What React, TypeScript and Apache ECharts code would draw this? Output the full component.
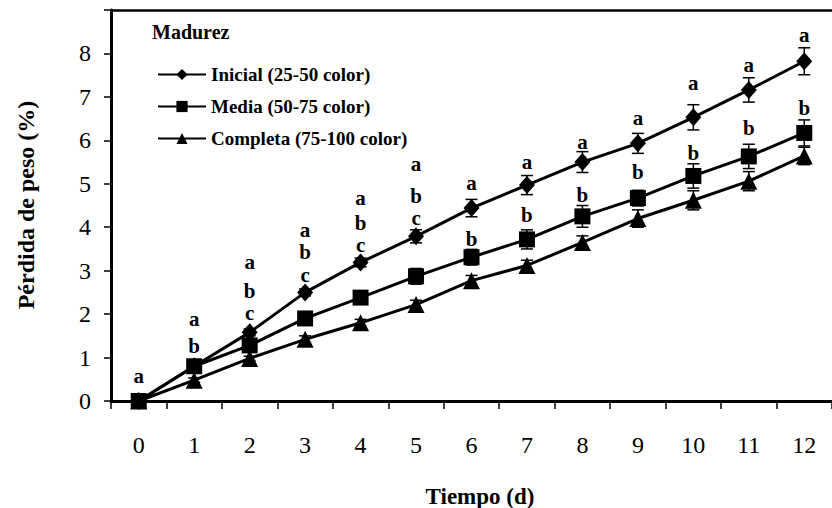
import React, { useEffect, useRef } from "react";
import * as echarts from "echarts";

const days = ["0", "1", "2", "3", "4", "5", "6", "7", "8", "9", "10", "11", "12"];
const seriesNames = ["Inicial (25-50 color)", "Media (50-75 color)", "Completa (75-100 color)"];
const inicial = [0, 0.8, 1.58, 2.5, 3.19, 3.79, 4.44, 4.97, 5.5, 5.93, 6.53, 7.16, 7.82];
const media = [0, 0.8, 1.28, 1.9, 2.38, 2.87, 3.31, 3.72, 4.25, 4.67, 5.18, 5.63, 6.17];
const completa = [0, 0.48, 0.98, 1.42, 1.8, 2.22, 2.77, 3.12, 3.65, 4.2, 4.62, 5.06, 5.64];
const errInicial = [0, 0.05, 0.08, 0.08, 0.1, 0.15, 0.2, 0.22, 0.24, 0.23, 0.29, 0.28, 0.31];
const errMedia = [0, 0.05, 0.08, 0.1, 0.1, 0.18, 0.18, 0.22, 0.25, 0.18, 0.28, 0.28, 0.3];
const errCompleta = [0, 0.05, 0.05, 0.08, 0.08, 0.1, 0.12, 0.12, 0.15, 0.2, 0.22, 0.22, 0.2];
const letterX = [0, 1, 1, 2, 2, 2, 3, 3, 3, 4, 4, 4, 5, 5, 5, 6, 6, 7, 7, 8, 8, 9, 9, 10, 10, 11, 11, 12, 12];
const letterY = [0.57, 1.88, 1.27, 3.2, 2.54, 2.02, 3.94, 3.43, 2.9, 4.67, 4.09, 3.58, 5.45, 4.72, 4.22, 5.01, 3.74, 5.5, 4.28, 5.96, 4.74, 6.51, 5.27, 7.32, 5.71, 7.74, 6.28, 8.43, 6.74];
const letterText = ["a", "a", "b", "a", "b", "c", "a", "b", "c", "a", "b", "c", "a", "b", "c", "a", "b", "a", "b", "a", "b", "a", "b", "a", "b", "a", "b", "a", "b"];
const yTicks = ["0", "1", "2", "3", "4", "5", "6", "7", "8", ""];

const FONT = "Liberation Serif";

function errData(vals: number[], errs: number[]) {
  return vals.map((v, i) => [i, v - errs[i], v + errs[i]]);
}

function errSeries(vals: number[], errs: number[]) {
  return {
    type: "custom",
    xAxisIndex: 0,
    yAxisIndex: 0,
    z: 1,
    silent: true,
    data: errData(vals, errs),
    renderItem: (params: any, api: any) => {
      const x = api.value(0);
      const lo = api.coord([x, api.value(1)]);
      const hi = api.coord([x, api.value(2)]);
      const hw = 6;
      const st = { stroke: "#000", lineWidth: 1.5 };
      return {
        type: "group",
        children: [
          { type: "line", shape: { x1: lo[0], y1: lo[1], x2: hi[0], y2: hi[1] }, style: st },
          { type: "line", shape: { x1: lo[0] - hw, y1: lo[1], x2: lo[0] + hw, y2: lo[1] }, style: st },
          { type: "line", shape: { x1: hi[0] - hw, y1: hi[1], x2: hi[0] + hw, y2: hi[1] }, style: st },
        ],
      };
    },
  };
}

export default function App() {
  const ref = useRef<HTMLDivElement>(null);
  useEffect(() => {
    if (!ref.current) return;
    const chart = echarts.init(ref.current, null, { renderer: "svg" });
    const lineStyle = { color: "#000", width: 3 };
    chart.setOption({
      animation: false,
      backgroundColor: "#fff",
      grid: { left: 111, right: -12, top: 10, bottom: 107 },
      legend: {
        data: seriesNames,
        orient: "vertical",
        left: 152,
        top: 60,
        itemWidth: 48,
        itemHeight: 14,
        itemGap: 13,
        textStyle: { fontFamily: FONT, fontWeight: "bold", fontSize: 19, color: "#000" },
        selectedMode: false,
      },
      xAxis: [
        {
          type: "category",
          data: days,
          boundaryGap: true,
          axisLine: { lineStyle: { color: "#000", width: 3 } },
          axisTick: { show: true, length: 8, lineStyle: { color: "#000", width: 1.5 } },
          axisLabel: { fontFamily: FONT, fontSize: 24, color: "#000", margin: 32 },
          splitLine: { show: false },
        },
        {
          type: "category",
          data: days,
          position: "top",
          axisLine: { lineStyle: { color: "#000", width: 2.5 } },
          axisTick: { show: false },
          axisLabel: { show: false },
        },
      ],
      yAxis: {
        type: "value",
        min: 0,
        max: 9,
        interval: 1,
        axisLine: { show: true, lineStyle: { color: "#000", width: 3 } },
        axisTick: { show: true, length: 7, lineStyle: { color: "#000", width: 1.5 } },
        axisLabel: {
          fontFamily: FONT,
          fontSize: 24,
          color: "#000",
          margin: 20,
          formatter: (v: number) => yTicks[Math.round(v)] ?? "",
        },
        splitLine: { show: false },
      },
      graphic: [
        {
          type: "text",
          left: 152,
          top: 22,
          style: { text: "Madurez", font: `bold 20px ${FONT}`, fill: "#000" },
        },
        {
          type: "text",
          x: 26,
          y: 205,
          rotation: Math.PI / 2,
          style: {
            text: "Pérdida de peso (%)",
            font: `bold 24px ${FONT}`,
            fill: "#000",
            align: "center",
            verticalAlign: "middle",
          },
        },
        {
          type: "text",
          x: 480,
          y: 496,
          style: {
            text: "Tiempo (d)",
            font: `bold 23px ${FONT}`,
            fill: "#000",
            align: "center",
            verticalAlign: "middle",
          },
        },
      ],
      series: [
        errSeries(inicial, errInicial),
        errSeries(media, errMedia),
        errSeries(completa, errCompleta),
        {
          name: seriesNames[0],
          type: "line",
          data: inicial,
          symbol: "diamond",
          symbolSize: [16, 18],
          lineStyle,
          itemStyle: { color: "#000" },
          z: 3,
        },
        {
          name: seriesNames[1],
          type: "line",
          data: media,
          symbol: "rect",
          symbolSize: 16,
          lineStyle,
          itemStyle: { color: "#000" },
          z: 3,
        },
        {
          name: seriesNames[2],
          type: "line",
          data: completa,
          symbol: "triangle",
          symbolSize: 17,
          lineStyle,
          itemStyle: { color: "#000" },
          z: 3,
        },
        {
          type: "custom",
          silent: true,
          z: 4,
          data: letterX.map((x, i) => [x, letterY[i]]),
          renderItem: (params: any, api: any) => {
            const p = api.coord([api.value(0), api.value(1)]);
            return {
              type: "text",
              x: p[0],
              y: p[1],
              style: {
                text: letterText[params.dataIndex],
                font: `bold 21px ${FONT}`,
                fill: "#000",
                align: "center",
                verticalAlign: "middle",
              },
            };
          },
        },
      ],
    });
    return () => chart.dispose();
  }, []);
  return <div ref={ref} style={{ width: 832, height: 508, position: "absolute", left: 0, top: 0 }} />;
}
